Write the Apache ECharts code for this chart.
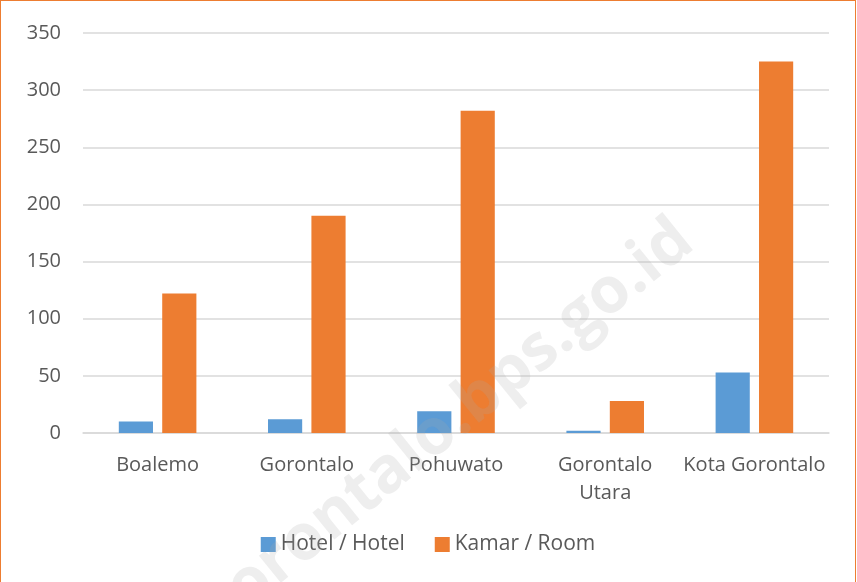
<!DOCTYPE html>
<html>
<head>
    <meta charset="UTF-8">
    <title>Hotel dan Kamar</title>
    <script src="https://cdn.jsdelivr.net/npm/echarts@6.0.0/dist/echarts.min.js"></script>
    <style>
        html, body { margin: 0; padding: 0; background: #fff; }
        #chart {
            width: 856px;
            height: 582px;
            box-sizing: border-box;
            border: 1px solid #ED7D31;
            border-bottom: none;
        }
    </style>
</head>
<body>
    <div id="chart"></div>
    <script>
        var categories = ['Boalemo', 'Gorontalo', 'Pohuwato', 'Gorontalo\nUtara', 'Kota Gorontalo'];
        var hotel = [10, 12, 19, 2, 53];
        var kamar = [122, 190, 282, 28, 325];
        var seriesNames = ['Hotel / Hotel', 'Kamar / Room'];

        var chart = echarts.init(document.getElementById('chart'));
        var font = '"Open Sans", "Liberation Sans", sans-serif';

        var option = {
            animation: false,
            textStyle: { fontFamily: font },
            grid: { left: 82, right: 26, top: 32, bottom: 149, containLabel: false },
            legend: {
                bottom: 22,
                left: 'center',
                itemWidth: 15,
                itemHeight: 15,
                itemGap: 30,
                icon: 'rect',
                textStyle: { fontSize: 21, color: '#595959', fontFamily: font },
                data: seriesNames
            },
            xAxis: {
                type: 'category',
                data: categories,
                axisLine: { lineStyle: { color: '#d9d9d9', width: 1.5 } },
                axisTick: { show: false },
                axisLabel: { fontSize: 20, color: '#595959', margin: 18, lineHeight: 28, interval: 0 }
            },
            yAxis: {
                type: 'value',
                min: 0,
                max: 350,
                interval: 50,
                axisLine: { show: false },
                axisTick: { show: false },
                axisLabel: { fontSize: 20, color: '#595959', margin: 22 },
                splitLine: { lineStyle: { color: '#d9d9d9', width: 1.5 } }
            },
            graphic: [{
                type: 'text',
                x: 445,
                y: 425,
                rotation: 0.68,
                silent: true,
                style: {
                    text: 'gorontalo.bps.go.id',
                    fontSize: 64,
                    fontWeight: 'bold',
                    fill: 'rgba(170,170,170,0.2)',
                    fontFamily: font,
                    textAlign: 'center',
                    textVerticalAlign: 'middle'
                },
                z: 100
            }],
            series: [
                {
                    name: seriesNames[0],
                    type: 'bar',
                    data: hotel,
                    barGap: '27%',
                    barCategoryGap: '48%',
                    itemStyle: { color: '#5B9BD5' }
                },
                {
                    name: seriesNames[1],
                    type: 'bar',
                    data: kamar,
                    itemStyle: { color: '#ED7D31' }
                }
            ]
        };
        chart.setOption(option);
    </script>
</body>
</html>
